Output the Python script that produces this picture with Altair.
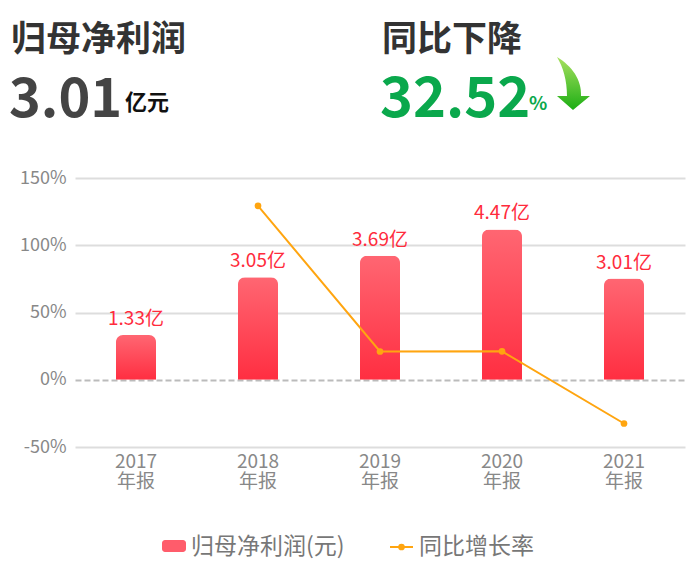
import altair as alt
import pandas as pd

years = ["2017", "2018", "2019", "2020", "2021"]
profit = [1.33, 3.05, 3.69, 4.47, 3.01]          # 亿元
profit_labels = ["1.33亿", "3.05亿", "3.69亿", "4.47亿", "3.01亿"]
growth_years = ["2018", "2019", "2020", "2021"]
growth = [129.3, 21.0, 21.1, -32.52]              # %
y_ticks = [-50, 0, 50, 100, 150]

FONT = "Noto Sans CJK SC"

bars_df = pd.DataFrame({"year": years, "profit": profit, "label": profit_labels})
line_df = pd.DataFrame({"year": growth_years, "growth": growth})
one = pd.DataFrame({"k": [0]})

W, H = 610, 269

xenc = alt.X("year:N", sort=years, scale=alt.Scale(domain=years, paddingInner=0, paddingOuter=0),
             axis=alt.Axis(title=None, labelExpr="[datum.label, '年报']", labelLineHeight=20,
                           labelPadding=5, labelAngle=0, labelFontSize=19, labelColor="#888",
                           labelFont=FONT, domain=False, ticks=False, grid=False))

bar_scale = alt.Scale(domain=[-2, 6], nice=False, zero=False)
grad = alt.Gradient(gradient="linear", x1=0, y1=0, x2=0, y2=1,
                    stops=[alt.GradientStop(color="#ff6672", offset=0),
                           alt.GradientStop(color="#ff2e41", offset=1)])

bars = alt.Chart(bars_df).mark_bar(size=40, fill=grad, cornerRadiusTopLeft=7,
                                   cornerRadiusTopRight=7).encode(
    x=xenc,
    y=alt.Y("profit:Q", scale=bar_scale, axis=None),
)
bar_text = alt.Chart(bars_df).mark_text(dy=-16, fontSize=19, color="#ff2b3c", font=FONT).encode(
    x=alt.X("year:N", sort=years),
    y=alt.Y("profit:Q", scale=bar_scale, axis=None),
    text="label:N",
)
bar_layer = alt.layer(bars, bar_text)

gscale = alt.Scale(domain=[-50, 150], nice=False, zero=False)
yaxis = alt.Axis(title=None, values=y_ticks, labelExpr="datum.value + '%'", labelFontSize=18,
                 labelColor="#888", labelFont=FONT, labelPadding=9, domain=False, ticks=False,
                 grid=True, gridColor=alt.condition("datum.value == 0", alt.value("#bbbbbb"), alt.value("#dddddd")),
                 gridDash=alt.condition("datum.value == 0", alt.value([6, 3]), alt.value([])),
                 gridWidth=2)

line = alt.Chart(line_df).mark_line(color="#ffa510", strokeWidth=2).encode(
    x=alt.X("year:N", sort=years),
    y=alt.Y("growth:Q", scale=gscale, axis=yaxis),
)
pts = alt.Chart(line_df).mark_point(filled=True, color="#ffa510", size=45, opacity=1).encode(
    x=alt.X("year:N", sort=years),
    y=alt.Y("growth:Q", scale=gscale),
)
line_layer = alt.layer(line, pts)

def txt(s, x, y, size, color, weight="normal", baseline="alphabetic"):
    return alt.Chart(one).mark_text(text=s, fontSize=size, color=color, fontWeight=weight,
                                    font=FONT, align="left", baseline=baseline).encode(
        x=alt.value(x), y=alt.value(y))

# header (positions relative to plot origin at 75,178)
header = [
    txt("归母净利润", -64, -127, 35, "#333333", "bold"),
    txt("3.01", -66, -61, 54, "#444444", "bold"),
    txt("亿元", 50, -68, 22, "#111111", "bold"),
    txt("同比下降", 307, -127, 35, "#333333", "bold"),
    txt("32.52", 305, -61, 56, "#0aa84c", "bold"),
    txt("%", 454, -68, 19, "#0aa84c", "bold"),
]

arrow_path = ("M -0.611 -0.981 C -0.056 -0.648 0.315 -0.130 0.278 0.463 L 0.611 0.463 "
              "L -0.019 0.981 L -0.611 0.463 L -0.241 0.463 C -0.241 -0.130 -0.389 -0.611 -0.611 -0.981 Z")
agrad = alt.Gradient(gradient="linear", x1=0, y1=0, x2=0, y2=1,
                     stops=[alt.GradientStop(color="#a8e060", offset=0),
                            alt.GradientStop(color="#1cae14", offset=1)])
arrow = alt.Chart(one).mark_point(shape=arrow_path, size=2916, filled=True, fill=agrad,
                                  opacity=1, strokeWidth=0).encode(
    x=alt.value(498.5), y=alt.value(-94.5))

# legend
leg_rect = alt.Chart(one).mark_rect(color="#ff5c6b", cornerRadius=3).encode(
    x=alt.value(87), x2=alt.value(111), y=alt.value(362), y2=alt.value(374))
leg_t1 = txt("归母净利润(元)", 116, 369, 23, "#777777", baseline="middle")
leg_line = alt.Chart(one).mark_rule(color="#ffa510", strokeWidth=2).encode(
    x=alt.value(315), x2=alt.value(338), y=alt.value(369))
leg_dot = alt.Chart(one).mark_point(filled=True, color="#ffa510", size=45, opacity=1).encode(
    x=alt.value(326.5), y=alt.value(369))
leg_t2 = txt("同比增长率", 344, 369, 23, "#777777", baseline="middle")

chart = alt.layer(
    bar_layer, line_layer, *header, arrow, leg_rect, leg_t1, leg_line, leg_dot, leg_t2
).resolve_scale(y="independent").properties(
    width=W, height=H,
    background="white",
    autosize=alt.AutoSizeParams(type="none"),
    padding={"left": 75, "top": 178, "right": 9, "bottom": 120},
).configure_view(strokeWidth=0, stroke="transparent")

chart.save("out.html", embed_options={"renderer": "svg", "actions": False})
